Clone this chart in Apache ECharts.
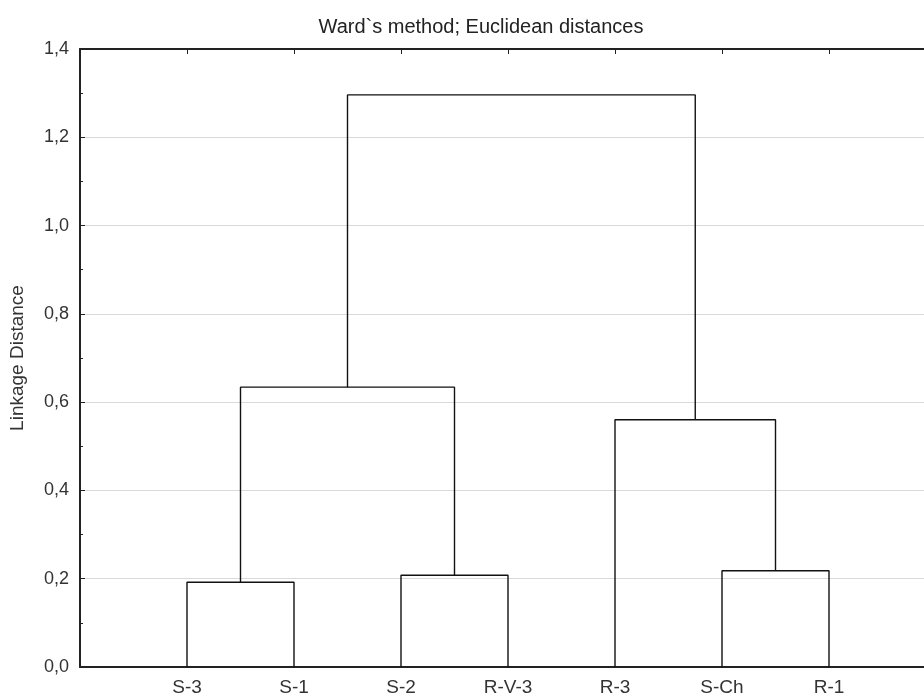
<!DOCTYPE html>
<html>
<head>
<meta charset="utf-8">
<script src="https://cdn.jsdelivr.net/npm/echarts@6/dist/echarts.min.js"></script>
<style>
  html, body { margin: 0; padding: 0; background: #fff; overflow: hidden; }
  #chart { width: 940px; height: 698px; }
</style>
</head>
<body>
<div id="chart"></div>
<script>
// leaves in dendrogram order
var leaves = ['S-3', 'S-1', 'S-2', 'R-V-3', 'R-3', 'S-Ch', 'R-1'];
// merges: node ids < leaves.length are leaves, others are earlier merges (leaves.length + index)
var mergeA = [0, 2, 5, 7, 4, 10];
var mergeB = [1, 3, 6, 8, 9, 11];
var mergeHeight = [0.192, 0.208, 0.218, 0.634, 0.560, 1.296];
var yTicks = [0, 0.2, 0.4, 0.6, 0.8, 1.0, 1.2, 1.4];

var nodeX = leaves.map(function (l, i) { return i + 1; });
var nodeY = leaves.map(function () { return 0; });
var series = [];
for (var i = 0; i < mergeA.length; i++) {
    var a = mergeA[i], b = mergeB[i], h = mergeHeight[i];
    series.push({
        type: 'line',
        data: [[nodeX[a], nodeY[a]], [nodeX[a], h], [nodeX[b], h], [nodeX[b], nodeY[b]]],
        symbol: 'none',
        lineStyle: {color: '#111', width: 1.4},
        animation: false,
        silent: true
    });
    nodeX.push((nodeX[a] + nodeX[b]) / 2);
    nodeY.push(h);
}

var myChart = echarts.init(document.getElementById('chart'));
var option = {
    backgroundColor: '#fff',
    title: {
        text: 'Ward`s method; Euclidean distances',
        left: 476,
        top: 12,
        textAlign: 'center',
        textStyle: {fontFamily: 'Liberation Sans', fontSize: 20, fontWeight: 'normal', color: '#222'}
    },
    // right edge of the plot sits just past the window, as in the cropped original
    grid: {left: 80, right: 4, top: 49, bottom: 31, containLabel: false, outerBoundsMode: 'none'},
    xAxis: [{
        type: 'value',
        min: 0,
        max: leaves.length + 1,
        interval: 1,
        position: 'bottom',
        axisLine: {lineStyle: {color: '#222', width: 2}},
        axisTick: {show: false},
        splitLine: {show: false},
        axisLabel: {
            margin: 11,
            fontFamily: 'Liberation Sans',
            fontSize: 19,
            color: '#333',
            formatter: function (v) { return leaves[v - 1] || ''; }
        }
    }, {
        type: 'value',
        min: 0,
        max: leaves.length + 1,
        interval: 1,
        position: 'top',
        axisLine: {lineStyle: {color: '#222', width: 2}},
        axisTick: {inside: true, length: 5, lineStyle: {color: '#222'}},
        axisLabel: {show: false},
        splitLine: {show: false}
    }],
    yAxis: {
        type: 'value',
        min: yTicks[0],
        max: yTicks[yTicks.length - 1],
        interval: 0.2,
        name: 'Linkage Distance',
        nameLocation: 'middle',
        nameGap: 53,
        nameTextStyle: {fontFamily: 'Liberation Sans', fontSize: 19, color: '#333'},
        axisLine: {show: true, lineStyle: {color: '#222', width: 2}},
        axisTick: {show: true, inside: true, length: 5, lineStyle: {color: '#222'}},
        minorTick: {show: true, splitNumber: 2, length: 3, lineStyle: {color: '#222'}},
        splitLine: {show: true, lineStyle: {color: '#d9d9d9', width: 1}},
        axisLabel: {
            margin: 11,
            fontFamily: 'Liberation Sans',
            fontSize: 18,
            color: '#333',
            formatter: function (v) { return v.toFixed(1).replace('.', ','); }
        }
    },
    series: series
};
myChart.setOption(option, true);
</script>
</body>
</html>
